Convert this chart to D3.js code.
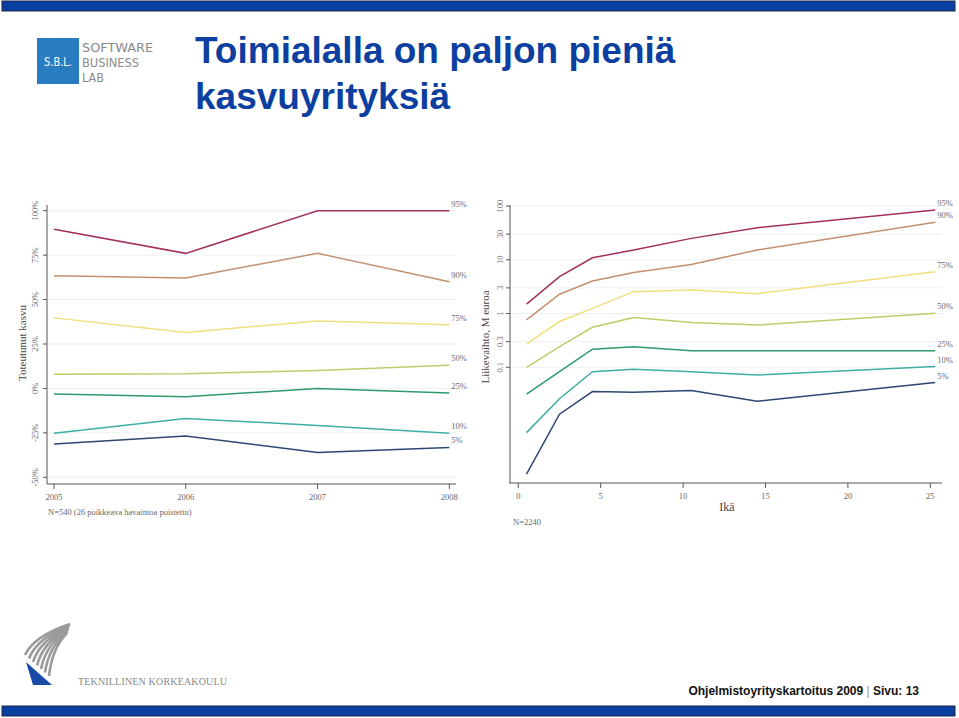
<!DOCTYPE html>
<html>
<head>
<meta charset="utf-8">
<script src="https://cdn.jsdelivr.net/npm/d3@7/dist/d3.min.js"></script>
<style>
body { margin: 0; background: #fff; }
svg { display: block; }
.tick-label { font-family: "Liberation Serif", "DejaVu Serif", serif; font-size: 8.5px; fill: #666; }
.axis-title { font-family: "Liberation Serif", "DejaVu Serif", serif; font-size: 11px; fill: #444; }
.series-label { font-family: "Liberation Serif", "DejaVu Serif", serif; font-size: 8.5px; fill: #6a6a6a; }
</style>
</head>
<body>
<svg id="slide"></svg>
<script>
// ---- data ----
var seriesNames = ["95%", "90%", "75%", "50%", "25%", "10%", "5%"];
var seriesColors = ["#a2305c", "#c48f70", "#f0df7c", "#bccd6a", "#2f9a6c", "#3eaea6", "#2d4674"];

// left chart: realised growth (%) by year
var years = [2005, 2006, 2007, 2008];
var growthTicks = [-50, -25, 0, 25, 50, 75, 100];
var growth95 = [89.6, 76, 100, 100];
var growth90 = [63.4, 62.2, 76, 60];
var growth75 = [39.7, 31.5, 38, 35.8];
var growth50 = [8.0, 8.2, 10.1, 13.1];
var growth25 = [-3.2, -4.7, 0, -2.6];
var growth10 = [-25.2, -16.9, -20.8, -25.2];
var growth05 = [-31.3, -26.7, -36, -33.2];

// right chart: turnover (M euro) by company age
var ages = [0.5, 2.5, 4.5, 7, 10.5, 14.5, 25.3];
var ageTicks = [0, 5, 10, 15, 20, 25];
var revenueTicks = [0.1, 0.3, 1, 3, 10, 30, 100];
var revenue95 = [1.5, 4.85, 10.9, 15.2, 25, 39.5, 84];
var revenue90 = [0.76, 2.29, 4.04, 5.77, 8.2, 15.2, 49.8];
var revenue75 = [0.27, 0.71, 1.25, 2.55, 2.75, 2.34, 6.0];
var revenue50 = [0.1, 0.243, 0.556, 0.84, 0.68, 0.61, 1.01];
var revenue25 = [0.0316, 0.083, 0.217, 0.24, 0.204, 0.204, 0.204];
var revenue10 = [0.0061, 0.026, 0.083, 0.092, 0.083, 0.072, 0.103];
var revenue05 = [0.00103, 0.0134, 0.0353, 0.0344, 0.0369, 0.0234, 0.052];

var growthSeries = [growth95, growth90, growth75, growth50, growth25, growth10, growth05];
var revenueSeries = [revenue95, revenue90, revenue75, revenue50, revenue25, revenue10, revenue05];

var W = 959, H = 718;
var svg = d3.select("#slide").attr("width", W).attr("height", H);

// ---- slide frame ----
svg.append("rect").attr("x", 2).attr("y", 1).attr("width", 953).attr("height", 10)
   .style("fill", "#0a3fa2").style("stroke", "#1c2448").style("stroke-width", 1);
svg.append("rect").attr("x", 2).attr("y", 706).attr("width", 953).attr("height", 10)
   .style("fill", "#0a3fa2").style("stroke", "#1c2448").style("stroke-width", 1);

// SBL logo
svg.append("rect").attr("x", 37).attr("y", 38).attr("width", 42).attr("height", 46).style("fill", "#2a7cc0");
svg.append("text").attr("x", 58).attr("y", 66).attr("text-anchor", "middle")
   .attr("textLength", 28).attr("lengthAdjust", "spacingAndGlyphs")
   .style("font-family", "'DejaVu Sans Condensed', 'Liberation Sans Narrow', sans-serif")
   .style("font-size", "13px").style("fill", "#fff").text("S.B.L.");
var logoWords = ["SOFTWARE", "BUSINESS", "LAB"];
var logoWidths = [71, 57, 22];
logoWords.forEach(function (w, i) {
  svg.append("text").attr("x", 82).attr("y", 52 + i * 15)
     .attr("textLength", logoWidths[i]).attr("lengthAdjust", "spacingAndGlyphs")
     .style("font-family", "'DejaVu Sans Condensed', sans-serif")
     .style("font-size", "12.5px").style("font-weight", "200").style("fill", "#8a8a8a")
     .text(w);
});

// title
var title = svg.append("text")
   .style("font-family", "'Liberation Sans', Arial, sans-serif")
   .style("font-size", "37px").style("font-weight", "bold").style("fill", "#0c3fa0");
title.append("tspan").attr("x", 195).attr("y", 63).text("Toimialalla on paljon pieniä");
title.append("tspan").attr("x", 195).attr("y", 109).text("kasvuyrityksiä");

// ---- left chart ----
var xL = d3.scaleLinear().domain([2005, 2008]).range([54, 449.3]);
var yL = d3.scaleLinear().domain([-50, 100]).range([477.3, 210.7]);
var left = svg.append("g");

left.selectAll("line.grid").data(growthTicks).enter().append("line")
  .attr("class", "grid")
  .attr("x1", 48).attr("x2", 456)
  .attr("y1", function (d) { return yL(d); }).attr("y2", function (d) { return yL(d); })
  .style("stroke", "#eef0f0").style("stroke-width", 1);

left.append("line").attr("x1", 47).attr("x2", 47).attr("y1", 205).attr("y2", 484)
  .style("stroke", "#555").style("stroke-width", 1);
left.append("line").attr("x1", 47).attr("x2", 456).attr("y1", 484).attr("y2", 484)
  .style("stroke", "#555").style("stroke-width", 1);

left.selectAll("line.ytick").data(growthTicks).enter().append("line")
  .attr("x1", 43).attr("x2", 47)
  .attr("y1", function (d) { return yL(d); }).attr("y2", function (d) { return yL(d); })
  .style("stroke", "#555");
left.selectAll("text.ylab").data(growthTicks).enter().append("text")
  .attr("class", "tick-label")
  .attr("text-anchor", "middle")
  .attr("transform", function (d) { return "translate(38," + yL(d) + ") rotate(-90)"; })
  .text(function (d) { return d + "%"; });

left.selectAll("line.xtick").data(years).enter().append("line")
  .attr("x1", function (d) { return xL(d); }).attr("x2", function (d) { return xL(d); })
  .attr("y1", 484).attr("y2", 489)
  .style("stroke", "#555");
left.selectAll("text.xlab").data(years).enter().append("text")
  .attr("class", "tick-label")
  .attr("text-anchor", "middle")
  .attr("x", function (d) { return xL(d); }).attr("y", 500)
  .text(function (d) { return d; });

left.append("text").attr("class", "axis-title").attr("text-anchor", "middle")
  .attr("transform", "translate(26,343) rotate(-90)").text("Toteutunut kasvu");
left.append("text").attr("class", "tick-label").attr("x", 48).attr("y", 515)
  .text("N=540 (26 poikkeava havaintoa poistettu)");

var lineL = d3.line()
  .x(function (d, i) { return xL(years[i]); })
  .y(function (d) { return yL(d); });

left.selectAll("path.series").data(growthSeries).enter().append("path")
  .attr("d", lineL)
  .style("fill", "none")
  .style("stroke", function (d, i) { return seriesColors[i]; })
  .style("stroke-width", 1.5);

left.selectAll("text.series-label").data(growthSeries).enter().append("text")
  .attr("class", "series-label")
  .attr("x", xL(2008) + 2)
  .attr("y", function (d) { return yL(d[d.length - 1]) - 4; })
  .text(function (d, i) { return seriesNames[i]; });

// ---- right chart ----
var xR = d3.scaleLinear().domain([0, 25]).range([518.3, 930.3]);
var yR = d3.scaleLog().domain([0.1, 100]).range([367.3, 206]);
var right = svg.append("g");

right.selectAll("line.grid").data(revenueTicks).enter().append("line")
  .attr("x1", 511).attr("x2", 942)
  .attr("y1", function (d) { return yR(d); }).attr("y2", function (d) { return yR(d); })
  .style("stroke", "#eef0f0").style("stroke-width", 1);

right.append("line").attr("x1", 510).attr("x2", 510).attr("y1", 205).attr("y2", 483)
  .style("stroke", "#555").style("stroke-width", 1);
right.append("line").attr("x1", 509).attr("x2", 942).attr("y1", 483).attr("y2", 483)
  .style("stroke", "#555").style("stroke-width", 1);

right.selectAll("line.ytick").data(revenueTicks).enter().append("line")
  .attr("x1", 506).attr("x2", 510)
  .attr("y1", function (d) { return yR(d); }).attr("y2", function (d) { return yR(d); })
  .style("stroke", "#555");
right.selectAll("text.ylab").data(revenueTicks).enter().append("text")
  .attr("class", "tick-label")
  .attr("text-anchor", "middle")
  .attr("transform", function (d) { return "translate(503," + yR(d) + ") rotate(-90)"; })
  .text(function (d) { return d; });

right.selectAll("line.xtick").data(ageTicks).enter().append("line")
  .attr("x1", function (d) { return xR(d); }).attr("x2", function (d) { return xR(d); })
  .attr("y1", 483).attr("y2", 488)
  .style("stroke", "#555");
right.selectAll("text.xlab").data(ageTicks).enter().append("text")
  .attr("class", "tick-label")
  .attr("text-anchor", "middle")
  .attr("x", function (d) { return xR(d); }).attr("y", 499)
  .text(function (d) { return d; });

right.append("text").attr("class", "axis-title").attr("text-anchor", "middle")
  .attr("transform", "translate(489,337) rotate(-90)").text("Liikevaihto, M euroa");
right.append("text").attr("class", "axis-title").attr("text-anchor", "middle")
  .attr("x", 727).attr("y", 511).style("font-size", "12px").text("Ikä");
right.append("text").attr("class", "tick-label").attr("x", 513).attr("y", 525).text("N=2240");

var lineR = d3.line()
  .x(function (d, i) { return xR(ages[i]); })
  .y(function (d) { return yR(d); });

right.selectAll("path.series").data(revenueSeries).enter().append("path")
  .attr("d", lineR)
  .style("fill", "none")
  .style("stroke", function (d, i) { return seriesColors[i]; })
  .style("stroke-width", 1.5);

right.selectAll("text.series-label").data(revenueSeries).enter().append("text")
  .attr("class", "series-label")
  .attr("x", xR(ages[ages.length - 1]) + 2)
  .attr("y", function (d) { return yR(d[d.length - 1]) - 4; })
  .text(function (d, i) { return seriesNames[i]; });

// ---- university logo ----
var kth = svg.append("g");
for (var k = 0; k < 7; k++) {
  var bx = 25 + k * 4, by = 655 + k * 3.5;
  kth.append("path")
    .attr("d", "M" + (70 - k * 0.5) + "," + (624 + k * 1.5) +
               " Q" + (34 + k * 3) + "," + (636 + k * 2) + " " + bx + "," + by)
    .style("fill", "none").style("stroke", "#9a9a9a").style("stroke-width", 2.6);
}
kth.append("path").attr("d", "M26,662 L52,685 L33,685 Z").style("fill", "#1a49a8");
svg.append("text").attr("x", 78).attr("y", 685)
  .attr("textLength", 149).attr("lengthAdjust", "spacing")
  .style("font-family", "'Liberation Serif', serif").style("font-size", "10px").style("fill", "#8a8a8a")
  .text("TEKNILLINEN KORKEAKOULU");

// footer
var foot = svg.append("text").attr("x", 919).attr("y", 695).attr("text-anchor", "end")
  .style("font-family", "'Liberation Sans', Arial, sans-serif").style("font-size", "12px")
  .style("font-weight", "bold").style("fill", "#111");
foot.append("tspan").text("Ohjelmistoyrityskartoitus 2009 ");
foot.append("tspan").style("fill", "#999").style("font-weight", "normal").text("|");
foot.append("tspan").text(" Sivu: 13");
</script>
</body>
</html>
